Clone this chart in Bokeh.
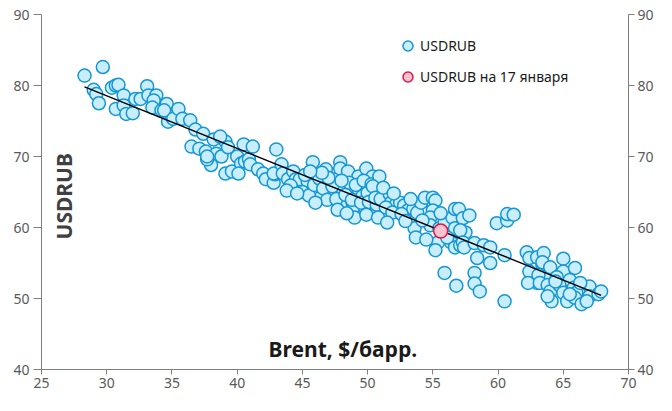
import math
from bokeh.plotting import figure
from bokeh.models import LinearAxis, Range1d, Legend, LegendItem, FixedTicker, Label
from bokeh.embed import file_html
from bokeh.resources import INLINE

brent = [
    28.3, 29.7, 29.0, 29.2, 29.4, 30.4, 30.7, 30.9, 31.3, 30.7, 31.3, 31.5, 32.0, 32.2, 32.6,
    33.1, 33.2, 33.8, 33.6, 33.5, 34.2, 34.6, 34.7, 35.0, 34.4, 35.1, 35.5, 35.8, 36.4,
    36.8, 37.4, 36.5, 37.1, 37.6, 38.2, 38.4, 38.0, 37.7, 37.7, 39.1, 38.8, 39.1, 39.6, 40.0,
    40.5, 41.2, 40.3, 40.6, 40.9, 41.0, 40.1, 41.6, 42.0, 42.2, 42.8, 42.9, 43.0, 38.7, 39.3,
    42.8, 43.4, 43.5, 43.9, 44.3, 44.5, 44.9, 44.8, 45.4, 45.8, 46.1, 46.4, 46.8, 47.1, 47.5,
    47.9, 47.9, 48.1, 47.9, 48.5, 48.9, 49.0, 49.3, 49.3, 49.6, 49.9, 49.8, 50.2, 50.5, 50.4,
    45.0, 45.5, 45.9, 46.3, 46.6, 46.9, 47.3, 47.6, 47.0, 48.3, 48.6, 48.8, 49.1, 49.5, 49.7,
    50.0, 50.1, 44.1, 43.8, 44.6, 45.2, 46.0, 47.7, 48.4, 49.9, 50.7, 50.3, 46.5, 45.6, 48.0,
    50.9, 50.4, 50.6, 51.0, 51.7, 51.8, 52.2, 52.5, 52.8, 51.4, 50.8, 51.9, 53.1, 53.5, 53.6,
    53.7, 53.8, 54.1, 54.4, 55.0, 55.2, 55.0, 54.8, 54.8, 55.5, 55.4, 55.2, 55.9, 56.5, 56.7,
    56.7, 56.4, 56.7, 57.1, 57.5, 55.9, 56.8, 51.2, 52.0, 52.6, 53.3, 54.2, 51.5, 52.9, 55.6,
    56.1, 54.5,
    57.0, 57.3, 57.8, 57.1, 57.3, 57.4, 58.2, 58.4, 58.9, 59.4, 59.4, 60.5, 59.9, 60.7, 60.7,
    61.2, 58.2, 58.2, 58.6, 60.5, 62.2, 62.4, 63.0, 62.4, 63.0, 62.3, 63.5, 63.4, 63.6,
    63.4, 64.0, 63.1, 63.2, 63.8, 64.0, 64.1, 65.0, 65.0, 65.9, 65.5, 64.7, 65.0, 65.3, 65.8,
    66.0, 65.9, 66.4, 67.0, 67.0, 66.8, 67.7, 67.9, 65.5, 64.5, 63.8, 64.4, 66.3,
]
usdrub = [
    81.4, 82.6, 79.4, 78.8, 77.5, 79.7, 80.0, 80.1, 78.6, 76.7, 77.2, 76.0, 76.1, 78.1, 78.1,
    79.9, 78.6, 78.6, 77.9, 76.9, 76.5, 77.4, 74.9, 75.6, 76.5, 75.3, 76.7, 75.3, 75.1,
    73.8, 73.2, 71.4, 71.1, 70.7, 72.4, 70.4, 68.8, 69.6, 70.0, 72.1, 70.0, 67.6, 67.9, 70.0,
    71.7, 71.4, 69.0, 69.3, 69.6, 68.9, 67.6, 68.2, 67.6, 66.8, 66.3, 67.5, 71.0, 72.8, 71.3,
    67.6, 68.9, 67.6, 66.8, 67.9, 66.8, 65.6, 66.8, 66.5, 69.2, 65.4, 64.2, 68.2, 64.4, 66.8,
    69.2, 68.3, 65.4, 63.1, 67.9, 62.8, 61.4, 67.2, 65.4, 64.4, 68.3, 62.8, 62.4, 65.4, 67.2,
    65.0, 64.5, 66.0, 66.9, 65.5, 63.9, 65.8, 64.0, 67.0, 64.6, 66.3, 63.9, 66.0, 63.5, 66.6,
    64.9, 63.6, 65.9, 65.2, 64.8, 67.4, 63.5, 62.5, 62.0, 61.8, 63.2, 66.1, 67.7, 67.9, 66.6,
    67.2, 65.8, 64.2, 64.0, 64.7, 63.5, 63.3, 63.5, 63.1, 62.8, 61.4, 62.1, 62.4, 62.6, 59.9,
    58.6, 62.1, 63.5, 64.2, 64.2, 63.8, 62.4, 61.4, 60.3, 59.9, 57.9, 56.8, 60.7, 61.4, 62.6,
    59.9, 57.9, 57.2, 57.5, 59.3, 53.6, 51.8, 65.6, 64.8, 61.9, 64.0, 61.0, 60.7, 60.9, 62.0,
    58.6, 58.3,
    62.6, 61.3, 61.7, 59.6, 57.9, 57.2, 57.8, 55.7, 57.5, 57.2, 55.0, 56.1, 60.6, 61.0, 61.9,
    61.8, 53.6, 52.1, 51.0, 49.6, 56.5, 55.7, 55.8, 53.8, 52.2, 52.2, 56.4, 54.7, 53.3,
    55.1, 54.4, 53.3, 52.2, 51.9, 51.0, 49.6, 55.6, 53.8, 54.3, 52.6, 51.9, 50.8, 49.6, 51.5,
    50.8, 50.1, 49.2, 51.7, 50.3, 49.6, 50.6, 51.0, 50.6, 53.0, 50.3, 52.4, 52.2,
]
jan17_brent = [55.6]
jan17_usdrub = [59.5]

x_ticks = [25, 30, 35, 40, 45, 50, 55, 60, 65, 70]
y_ticks = [40, 50, 60, 70, 80, 90]
series_names = ["USDRUB", "USDRUB на 17 января"]
y_title = "USDRUB"
x_title = "Brent, $/барр."

FONT = "Noto Sans"
AXIS_COLOR = "#7f7f7f"
TICK_TEXT = "#595959"

p = figure(width=656, height=395, x_range=Range1d(25, 70), y_range=Range1d(40, 90),
           output_backend="svg", toolbar_location=None,
           min_border_left=41, min_border_right=25, min_border_top=14, min_border_bottom=26)
p.outline_line_color = None
p.xgrid.visible = False
p.ygrid.visible = False
p.background_fill_color = "white"
p.border_fill_color = "white"


def style_axis(ax, ticks, tick_out, standoff):
    ax.ticker = FixedTicker(ticks=ticks)
    ax.axis_line_color = AXIS_COLOR
    ax.axis_line_width = 1
    ax.major_tick_line_color = AXIS_COLOR
    ax.major_tick_in = 0
    ax.major_tick_out = tick_out
    ax.minor_tick_line_color = None
    ax.major_label_text_font = FONT
    ax.major_label_text_font_size = "14px"
    ax.major_label_text_color = TICK_TEXT
    ax.major_label_standoff = standoff


style_axis(p.xaxis[0], x_ticks, 5, 3)
style_axis(p.yaxis[0], y_ticks, 8, 4)
right = LinearAxis()
style_axis(right, y_ticks, 6, 3)
p.add_layout(right, "right")

r1 = p.scatter(brent, usdrub, size=13, fill_color="#c8edfc", line_color="#1497d3", line_width=1.5)

# trend line (least squares fit of the data), drawn over the points
n = len(brent)
mx = sum(brent) / n
my = sum(usdrub) / n
slope = sum((a - mx) * (b - my) for a, b in zip(brent, usdrub)) / sum((a - mx) ** 2 for a in brent)
icpt = my - slope * mx
xs = [min(brent), max(brent)]
p.line(xs, [icpt + slope * v for v in xs], line_color="black", line_width=1.5)

r2 = p.scatter(jan17_brent, jan17_usdrub, size=14, fill_color="#f7c3cf", line_color="#e0174c", line_width=1.5)

legend = Legend(items=[LegendItem(label=series_names[0], renderers=[r1]),
                       LegendItem(label=series_names[1], renderers=[r2])],
                location=(354, 280), orientation="vertical",
                glyph_width=25, glyph_height=25, spacing=6, padding=0, margin=0,
                label_standoff=0, label_text_font=FONT, label_text_font_size="14px",
                label_text_color="#1a1a1a", background_fill_alpha=0, border_line_color=None)
p.add_layout(legend)

p.add_layout(Label(x=26.75, y=64.4, text=y_title, angle=math.pi / 2, text_align="center",
                   text_baseline="middle", text_font=FONT, text_font_style="bold",
                   text_font_size="21px", text_color="#404040"))
p.add_layout(Label(x=48.1, y=42.9, text=x_title, text_align="center",
                   text_baseline="middle", text_font=FONT, text_font_style="bold",
                   text_font_size="21px", text_color="#1a1a1a"))

open("out.html", "w").write(file_html(p, INLINE))
